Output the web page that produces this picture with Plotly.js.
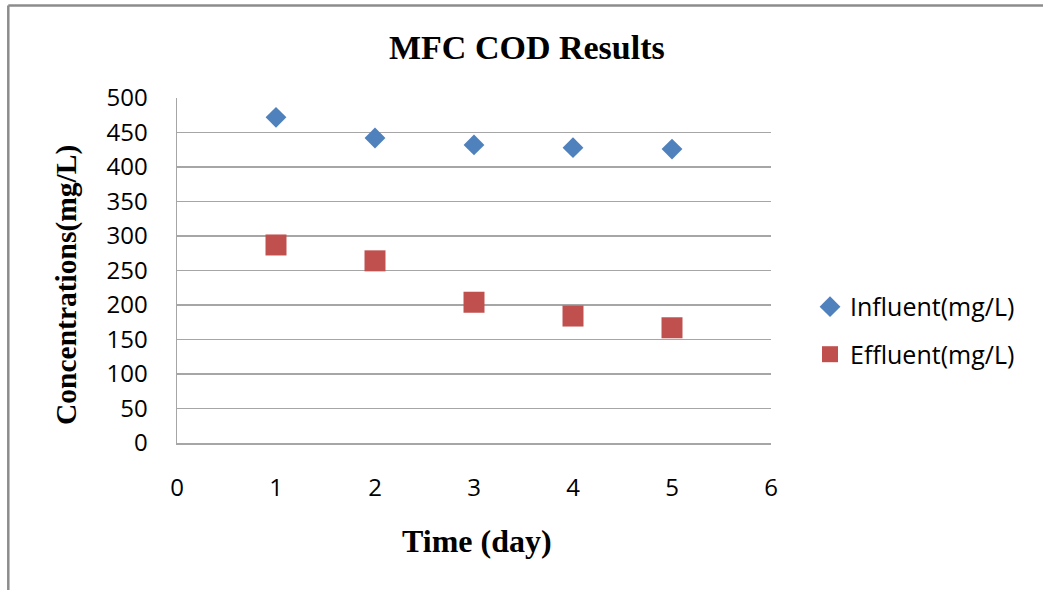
<!DOCTYPE html>
<html>
<head>
<meta charset="utf-8">
<script src="https://cdn.plot.ly/plotly-3.0.1.min.js"></script>
<style>html,body{margin:0;padding:0;background:#fff;}</style>
</head>
<body>
<div id="chart" style="width:1043px;height:590px;"></div>
<script>
const days = [1, 2, 3, 4, 5];
const influent = [472, 442, 432, 428, 426];
const effluent = [287, 264, 204, 184, 167];
const seriesNames = ["Influent(mg/L)", "Effluent(mg/L)"];
const chartTitle = "MFC COD Results";
const xTitle = "Time (day)";
const yTitle = "Concentrations(mg/L)";

const sansFont = "Open Sans, Liberation Sans, sans-serif";
const serifFont = "Liberation Serif, serif";
const tickFont = {family: sansFont, size: 24, color: "#000"};

const traces = [
  {x: days, y: influent, name: seriesNames[0], type: "scatter", mode: "markers",
   legendgroup: "a",
   marker: {symbol: "diamond", size: 16, color: "#4F81BD"}},
  {x: days, y: effluent, name: seriesNames[1], type: "scatter", mode: "markers",
   legendgroup: "b",
   marker: {symbol: "square", size: 21, color: "#C0504D"}}
];

const layout = {
  width: 1043, height: 590,
  margin: {l: 177, r: 272, t: 98, b: 147},
  paper_bgcolor: "#fff", plot_bgcolor: "#fff",
  showlegend: true,
  title: {text: chartTitle, x: 0.589, xref: "paper", xanchor: "center",
          y: 1 - 47 / 590, yref: "container", yanchor: "middle",
          font: {family: serifFont, size: 34, color: "#000", weight: "bold"}},
  xaxis: {range: [0, 6], dtick: 1, tick0: 0, showgrid: false, zeroline: false,
          showline: true, linecolor: "#a6a6a6", linewidth: 1.5, ticks: "",
          ticklabelstandoff: 23, tickfont: tickFont},
  yaxis: {range: [0, 500], dtick: 50, tick0: 0, showgrid: true, gridcolor: "#a6a6a6", gridwidth: 1.5,
          zeroline: false, showline: true, linecolor: "#a6a6a6", linewidth: 1.5, ticks: "",
          ticklabelstandoff: 23, tickfont: tickFont},
  legend: {x: 1.0657, xanchor: "left", y: 0.461, yanchor: "top",
           font: {family: sansFont, size: 25, color: "#000"},
           traceorder: "grouped", tracegroupgap: 12, itemwidth: 30, bgcolor: "rgba(0,0,0,0)"},
  annotations: [
    {text: xTitle, xref: "paper", yref: "paper", x: (477 - 177) / 594, y: (443 - 541) / 345,
     xanchor: "center", yanchor: "middle", showarrow: false,
     font: {family: serifFont, size: 32, color: "#000", weight: "bold"}},
    {text: yTitle, xref: "paper", yref: "paper", x: (66 - 177) / 594, y: (443 - 285) / 345,
     xanchor: "center", yanchor: "middle", showarrow: false, textangle: -90,
     font: {family: serifFont, size: 29.5, color: "#000", weight: "bold"}}
  ],
  shapes: [
    {type: "line", xref: "paper", yref: "paper", x0: -0.284, x1: 1.5, y0: 1.268, y1: 1.268,
     line: {color: "#8c8c8c", width: 2.5}},
    {type: "line", xref: "paper", yref: "paper", x0: -0.284, x1: -0.284, y0: 1.268, y1: -0.45,
     line: {color: "#8c8c8c", width: 2.5}}
  ]
};

Plotly.newPlot("chart", traces, layout, {displayModeBar: false, staticPlot: true});
</script>
</body>
</html>
